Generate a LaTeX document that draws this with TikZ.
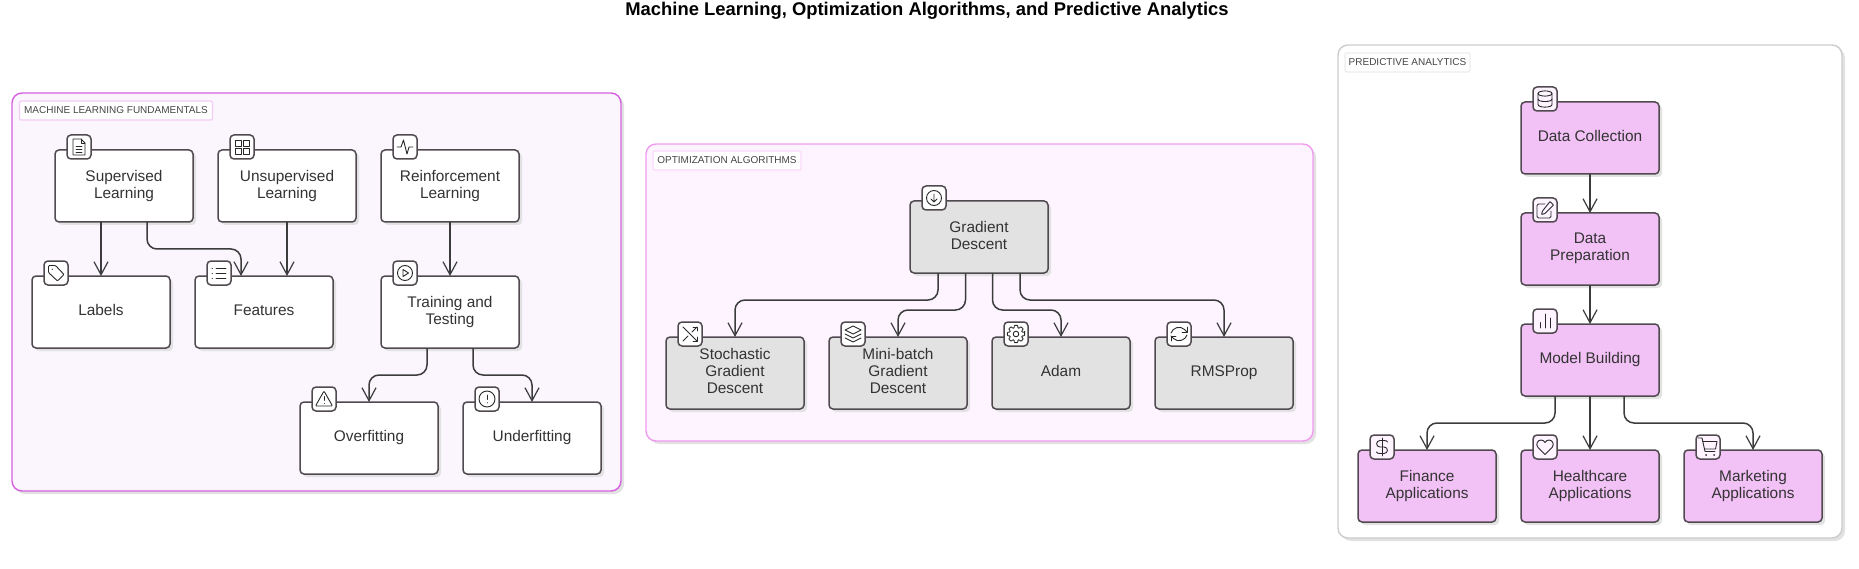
\documentclass[tikz,border=0pt]{standalone}
\usepackage{fontspec}
\setmainfont{Liberation Sans}
\usetikzlibrary{shadows,arrows.meta}

\tikzset{
    area/.style={draw, outer sep=0pt, inner sep=0pt, line width=1.4pt, rounded corners=10pt,
        drop shadow={shadow xshift=3pt, shadow yshift=-3pt, fill=shadowgray, opacity=1}},
    arealabel/.style={draw, anchor=north west, outer sep=0pt, minimum height=19pt, inner sep=0pt,
        line width=1.3pt, rounded corners=2pt, fill=white, text=taggray, text depth=1pt,
        font=\fontsize{10}{12}\selectfont},
    box/.style={draw=linegray, outer sep=0pt, inner sep=0pt, line width=1.5pt, rounded corners=4pt,
        minimum width=138pt, minimum height=72pt, align=center, text=textgray, text depth=4pt,
        font=\fontsize{15.4}{17}\selectfont,
        drop shadow={shadow xshift=3pt, shadow yshift=-3pt, fill=shadowgray, opacity=1}},
    badge/.style={draw=linegray, outer sep=0pt, inner sep=0pt, line width=1.5pt, rounded corners=4pt,
        minimum size=24pt, fill=white},
    flow/.style={draw=edgegray, line width=1.5pt, rounded corners=10pt,
        -{Straight Barb[length=13pt,width=14pt,line width=1.2pt]}},
    ico/.style={draw=iconblack, line width=.9pt, line join=round, line cap=round},
    % Icons drawn around the middle of a badge
    doc icon/.pic={
        \draw[ico] (-6,-8) -- (2,-8) -- (6,-4) -- (6,8) -- (-6,8) -- cycle;
        \draw[ico] (2,-8) -- (2,-4) -- (6,-4);
        \draw[ico] (-3,-1) -- (3,-1) (-3,2) -- (3,2) (-3,5) -- (3,5);
    },
    grid icon/.pic={
        \draw[ico] (-7,-7) rectangle (-1,-1) (1.5,-7) rectangle (7.5,-1);
        \draw[ico] (-7,1.5) rectangle (-1,7.5) (1.5,1.5) rectangle (7.5,7.5);
    },
    pulse icon/.pic={
        \draw[ico] (-8,0) -- (-4,0) -- (-1.5,-7) -- (2,7) -- (4,0) -- (8,0);
    },
    tag icon/.pic={
        \draw[ico, rounded corners=1pt] (-7.5,-7.5) -- (-0.5,-7.5) -- (8,1.5) -- (1.5,8) -- (-7.5,-0.5) -- cycle;
        \fill[iconblack] (-3.8,-3.8) circle (.6pt);
    },
    list icon/.pic={
        \draw[ico] (-3,-5) -- (7,-5) (-3,0) -- (7,0) (-3,5) -- (7,5);
        \draw[ico] (-7,-5) -- (-6.5,-5) (-7,0) -- (-6.5,0) (-7,5) -- (-6.5,5);
    },
    play icon/.pic={
        \draw[ico] (0,0) circle (7.5pt);
        \draw[ico] (-2,-3.5) -- (3.5,0) -- (-2,3.5) -- cycle;
    },
    warn icon/.pic={
        \draw[ico, rounded corners=1pt] (0,-8) -- (8.5,7) -- (-8.5,7) -- cycle;
        \draw[ico] (0,-2.5) -- (0,1.5) (0,4.3) -- (0,4.4);
    },
    alert icon/.pic={
        \draw[ico] (0,0) circle (8pt);
        \draw[ico] (0,-4) -- (0,.5) (0,3.7) -- (0,3.8);
    },
    down icon/.pic={
        \draw[ico] (0,0) circle (7.5pt);
        \draw[ico] (0,-4) -- (0,4) (-3,1) -- (0,4) -- (3,1);
    },
    shuffle icon/.pic={
        \draw[ico] (-7,-7) -- (7,7) (-7,7) -- (-2,2) (2,-2) -- (7,-7);
        \draw[ico] (3,-7) -- (7,-7) -- (7,-3) (7,3) -- (7,7) -- (3,7);
    },
    layers icon/.pic={
        \draw[ico] (0,-8) -- (8,-4) -- (0,0) -- (-8,-4) -- cycle;
        \draw[ico] (-8,0) -- (0,4) -- (8,0) (-8,4) -- (0,8) -- (8,4);
    },
    gear icon/.pic={
        \draw[ico, rounded corners=.7pt] (-12:8.8)
            \foreach \a in {0,45,...,315} {-- (\a-12:8.8) -- (\a+12:8.8) -- (\a+16:6.4) -- (\a+29:6.4)} -- cycle;
        \draw[ico] (0,0) circle (2.8pt);
    },
    refresh icon/.pic={
        \draw[ico] (-8,-1) .. controls (-6.5,-6) and (1,-9) .. (5.5,-4.5) -- (8,-2);
        \draw[ico] (8,-7) -- (8,-2) -- (3,-2);
        \draw[ico] (8,1) .. controls (6.5,6) and (-1,9) .. (-5.5,4.5) -- (-8,2);
        \draw[ico] (-8,7) -- (-8,2) -- (-3,2);
    },
    base icon/.pic={
        \draw[ico] (0,-5.5) ellipse [x radius=7pt, y radius=2.6pt];
        \draw[ico] (-7,-5.5) -- (-7,5.5) .. controls (-7,9) and (7,9) .. (7,5.5) -- (7,-5.5);
        \draw[ico] (-7,0) .. controls (-7,3.4) and (7,3.4) .. (7,0);
    },
    edit icon/.pic={
        \draw[ico, rounded corners=1.5pt] (0,-6) -- (-8,-6) -- (-8,8) -- (6,8) -- (6,1);
        \draw[ico, rounded corners=.5pt] (5,-8.5) -- (8.5,-5) -- (0,3.5) -- (-3.5,4.5) -- (-2.5,1) -- cycle;
    },
    bars icon/.pic={
        \draw[ico] (-5,1.5) -- (-5,7) (0,-7) -- (0,7) (5,-3) -- (5,7);
    },
    dollar icon/.pic={
        \draw[ico] (0,-9) -- (0,9);
        \draw[ico] (5.5,-5) .. controls (5,-6) and (4,-6.5) .. (2,-6.5) -- (-2,-6.5)
            .. controls (-6.5,-6.5) and (-6.5,0) .. (-2,0) -- (2,0)
            .. controls (6.5,0) and (6.5,6.5) .. (2,6.5) -- (-2,6.5) .. controls (-4,6.5) and (-5,6) .. (-5.5,5);
    },
    heart icon/.pic={
        \draw[ico] (0,7.5) -- (-7,0.5) .. controls (-10,-3) and (-7,-7) .. (-4,-7)
            .. controls (-2,-7) and (-1,-6) .. (0,-4.5) .. controls (1,-6) and (2,-7) .. (4,-7)
            .. controls (7,-7) and (10,-3) .. (7,0.5) -- cycle;
    },
    cart icon/.pic={
        \draw[ico] (-10,-9) -- (-6,-9) -- (-3,4.5) -- (7,4.5);
        \draw[ico] (-5.3,-5.5) -- (9,-5.5) -- (7.5,2) -- (-3.5,2);
        \fill[iconblack] (-2,8) circle (1pt) (6,8) circle (1pt);
    },
}

\begin{document}
\begin{tikzpicture}[x=1pt, y=-1pt]
    % Colors for the three areas
    \definecolor{shadowgray}{RGB}{226,226,226}
    \definecolor{linegray}{RGB}{80,74,80}
    \definecolor{edgegray}{RGB}{60,60,60}
    \definecolor{textgray}{RGB}{51,51,51}
    \definecolor{taggray}{RGB}{70,70,70}
    \definecolor{iconblack}{RGB}{40,40,40}
    \definecolor{mlfill}{RGB}{251,246,254}
    \definecolor{mlline}{RGB}{212,96,222}
    \definecolor{mltag}{RGB}{242,205,246}
    \definecolor{optfill}{RGB}{253,244,255}
    \definecolor{optline}{RGB}{240,155,240}
    \definecolor{opttag}{RGB}{251,218,252}
    \definecolor{optbox}{RGB}{226,226,226}
    \definecolor{paline}{RGB}{204,204,204}
    \definecolor{patag}{RGB}{238,238,238}
    \definecolor{pabox}{RGB}{242,193,246}

    \useasboundingbox (0,0) rectangle (1859,569);

    \node[font=\bfseries\fontsize{18.4}{22}\selectfont] (title) at (927,10.5) {Machine Learning, Optimization Algorithms, and Predictive Analytics};

    % Machine learning area
    \node[area, draw=mlline, fill=mlfill, minimum width=609pt, minimum height=398pt] (mlarea) at (316.5,292) {};
    \node[arealabel, draw=mltag, minimum width=193pt] (mllabel) at (19.5,101) {MACHINE LEARNING FUNDAMENTALS};

    \node[box, fill=white] (sup) at (124,186) {Supervised\\Learning};
    \node[box, fill=white] (unsup) at (287,186) {Unsupervised\\Learning};
    \node[box, fill=white] (rein) at (450,186) {Reinforcement\\Learning};
    \node[box, fill=white] (labels) at (101,312) {Labels};
    \node[box, fill=white] (feat) at (264,312) {Features};
    \node[box, fill=white] (train) at (450,312) {Training and\\Testing};
    \node[box, fill=white] (over) at (369,438) {Overfitting};
    \node[box, fill=white] (under) at (532,438) {Underfitting};

    \node[badge] (supicon) at ([xshift=24pt,yshift=3pt]sup.north west) {};
    \node[badge] (unsupicon) at ([xshift=24pt,yshift=3pt]unsup.north west) {};
    \node[badge] (reinicon) at ([xshift=24pt,yshift=3pt]rein.north west) {};
    \node[badge] (labelsicon) at ([xshift=24pt,yshift=3pt]labels.north west) {};
    \node[badge] (featicon) at ([xshift=24pt,yshift=3pt]feat.north west) {};
    \node[badge] (trainicon) at ([xshift=24pt,yshift=3pt]train.north west) {};
    \node[badge] (overicon) at ([xshift=24pt,yshift=3pt]over.north west) {};
    \node[badge] (undericon) at ([xshift=24pt,yshift=3pt]under.north west) {};
    \pic at (supicon) {doc icon};
    \pic at (unsupicon) {grid icon};
    \pic at (reinicon) {pulse icon};
    \pic at (labelsicon) {tag icon};
    \pic at (featicon) {list icon};
    \pic at (trainicon) {play icon};
    \pic at (overicon) {warn icon};
    \pic at (undericon) {alert icon};

    \draw[flow] ([xshift=-23pt]sup.south) -- (labels.north);
    \draw[flow] ([xshift=23pt]sup.south) -- ++(0,27) -| ([xshift=-23pt]feat.north);
    \draw[flow] (unsup.south) -- ([xshift=23pt]feat.north);
    \draw[flow] (rein.south) -- (train.north);
    \draw[flow] ([xshift=-23pt]train.south) -- ++(0,27) -| (over.north);
    \draw[flow] ([xshift=23pt]train.south) -- ++(0,27) -| (under.north);

    % Optimization area
    \node[area, draw=optline, fill=optfill, minimum width=667pt, minimum height=297pt] (optarea) at (979.5,292.5) {};
    \node[arealabel, draw=opttag, minimum width=148pt] (optlabel) at (653,151) {OPTIMIZATION ALGORITHMS};

    \node[box, fill=optbox] (gd) at (979,237) {Gradient\\Descent};
    \node[box, fill=optbox] (sgd) at (735,373) {Stochastic\\Gradient\\Descent};
    \node[box, fill=optbox] (mini) at (898,373) {Mini-batch\\Gradient\\Descent};
    \node[box, fill=optbox] (adam) at (1061,373) {Adam};
    \node[box, fill=optbox] (rms) at (1224,373) {RMSProp};

    \node[badge] (gdicon) at ([xshift=24pt,yshift=3pt]gd.north west) {};
    \node[badge] (sgdicon) at ([xshift=24pt,yshift=3pt]sgd.north west) {};
    \node[badge] (miniicon) at ([xshift=24pt,yshift=3pt]mini.north west) {};
    \node[badge] (adamicon) at ([xshift=24pt,yshift=3pt]adam.north west) {};
    \node[badge] (rmsicon) at ([xshift=24pt,yshift=3pt]rms.north west) {};
    \pic at (gdicon) {down icon};
    \pic at (sgdicon) {shuffle icon};
    \pic at (miniicon) {layers icon};
    \pic at (adamicon) {gear icon};
    \pic at (rmsicon) {refresh icon};

    \draw[flow] ([xshift=-41pt]gd.south) -- ++(0,27) -| (sgd.north);
    \draw[flow] ([xshift=-13.5pt]gd.south) -- ++(0,37) -| (mini.north);
    \draw[flow] ([xshift=13.5pt]gd.south) -- ++(0,37) -| (adam.north);
    \draw[flow] ([xshift=41pt]gd.south) -- ++(0,27) -| (rms.north);

    % Predictive analytics area
    \node[area, draw=paline, fill=white, minimum width=504pt, minimum height=493pt] (paarea) at (1590,291.5) {};
    \node[arealabel, draw=patag, minimum width=125pt] (palabel) at (1345,53) {PREDICTIVE ANALYTICS};

    \node[box, fill=pabox] (collect) at (1590,138) {Data Collection};
    \node[box, fill=pabox] (prep) at (1590,249) {Data\\Preparation};
    \node[box, fill=pabox] (model) at (1590,360) {Model Building};
    \node[box, fill=pabox] (fin) at (1427,486) {Finance\\Applications};
    \node[box, fill=pabox] (health) at (1590,486) {Healthcare\\Applications};
    \node[box, fill=pabox] (market) at (1753,486) {Marketing\\Applications};

    \node[badge, fill=optfill] (collecticon) at ([xshift=24pt,yshift=3pt]collect.north west) {};
    \node[badge, fill=optfill] (prepicon) at ([xshift=24pt,yshift=3pt]prep.north west) {};
    \node[badge, fill=optfill] (modelicon) at ([xshift=24pt,yshift=3pt]model.north west) {};
    \node[badge, fill=optfill] (finicon) at ([xshift=24pt,yshift=3pt]fin.north west) {};
    \node[badge, fill=optfill] (healthicon) at ([xshift=24pt,yshift=3pt]health.north west) {};
    \node[badge, fill=optfill] (marketicon) at ([xshift=24pt,yshift=3pt]market.north west) {};
    \pic at (collecticon) {base icon};
    \pic at (prepicon) {edit icon};
    \pic at (modelicon) {bars icon};
    \pic at (finicon) {dollar icon};
    \pic at (healthicon) {heart icon};
    \pic at (marketicon) {cart icon};

    \draw[flow] (collect.south) -- (prep.north);
    \draw[flow] (prep.south) -- (model.north);
    \draw[flow] ([xshift=-35pt]model.south) -- ++(0,27) -| (fin.north);
    \draw[flow] (model.south) -- (health.north);
    \draw[flow] ([xshift=34pt]model.south) -- ++(0,27) -| (market.north);
\end{tikzpicture}
\end{document}
